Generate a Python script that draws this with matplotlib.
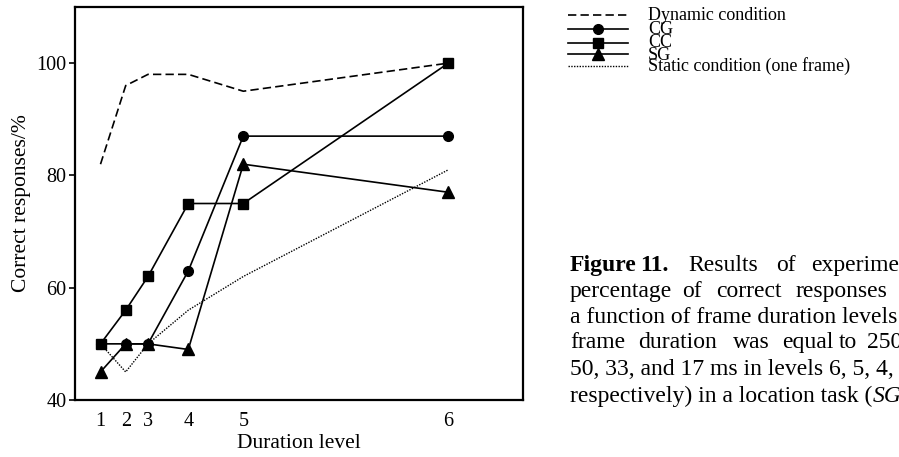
import matplotlib
matplotlib.use('Agg')
import matplotlib.pyplot as plt
from matplotlib.lines import Line2D

# ---- data ----
levels = [1, 2, 3, 4, 5, 6]
level_positions = [25.5, 50.7, 73.0, 113.3, 168.3, 373.3]  # axis placement of each level
dynamic = [82, 96, 98, 98, 95, 100]
cg = [50, 50, 50, 63, 87, 87]
cc = [50, 56, 62, 75, 75, 100]
sg = [45, 50, 50, 49, 82, 77]
static = [50, 45, 50, 56, 62, 81]
yticks = [40, 60, 80, 100]

FONT = 'Liberation Serif'
plt.rcParams['font.family'] = [FONT, 'DejaVu Serif']

W, H = 899, 457
fig = plt.figure(figsize=(W / 100, H / 100), dpi=100)
ax = fig.add_axes([75 / W, 57 / H, 448 / W, 393 / H])

lw = 1.2
ax.plot(level_positions, dynamic, color='black', lw=lw, dashes=(5, 2.5))
ax.plot(level_positions, static, color='black', lw=1.0, linestyle=(0, (1, 1)))
ax.plot(level_positions, cg, color='black', lw=lw, marker='o', markersize=7)
ax.plot(level_positions, sg, color='black', lw=lw, marker='^', markersize=9)
ax.plot(level_positions, cc, color='black', lw=lw, marker='s', markersize=7.5)

ax.set_xlim(0, 448)
ax.set_ylim(40, 110)
ax.set_xticks(level_positions)
ax.set_xticklabels([str(l) for l in levels])
ax.set_yticks(yticks)
ax.tick_params(axis='x', length=0, pad=9, labelsize=14.5)
ax.tick_params(axis='y', length=4, width=1.2, direction='out', pad=2, labelsize=14.5)
for s in ax.spines.values():
    s.set_linewidth(1.6)
ax.set_xlabel('Duration level', fontsize=15.5, labelpad=2)
ax.set_ylabel('Correct responses/%', fontsize=15.5, labelpad=4)

# ---- legend (manual, outside axes) ----
def fy(py):
    return 1 - py / H

# (label, line style, marker, handle y px, text baseline y px)
entries = [
    ('Dynamic condition', dict(dashes=(5, 2.5), lw=lw), None, 15, 19.5),
    ('CG', dict(lw=lw), 'o', 29.3, 33.8),
    ('CC', dict(lw=lw), 's', 42.7, 47.2),
    ('SG', dict(lw=lw), '^', 53.5, 59.5),
    ('Static condition (one frame)', dict(linestyle=(0, (1, 1)), lw=1.0), None, 65.7, 71.0),
]
for label, st, mk, py, pb in entries:
    ln = Line2D([568 / W, 628 / W], [fy(py), fy(py)], transform=fig.transFigure,
                color='black', **st)
    fig.add_artist(ln)
    if mk is not None:
        ms = {'o': 7, 's': 7, '^': 9}[mk]
        m = Line2D([598 / W], [fy(py)], transform=fig.transFigure, color='black',
                   marker=mk, markersize=ms, linestyle='none')
        fig.add_artist(m)
    fig.text(648 / W, fy(pb), label, fontsize=13, va='baseline', ha='left')

# ---- caption (partially cut at right edge) ----
cap_fs = 17
lines = [
    (270.7, [(570, 'Figure', 'bold'), (640, '11.', 'bold'), (688.3, 'Results', None),
             (776, 'of', None), (810.7, 'experimental', None)]),
    (296.7, [(570, 'percentage', None), (681.7, 'of', None), (715.7, 'correct', None),
             (795, 'responses', None), (901, 'as', None)]),
    (323.3, [(570, 'a function of frame duration levels', None)]),
    (348.3, [(570, 'frame', None), (638.3, 'duration', None), (733.3, 'was', None),
             (781.7, 'equal', None), (838.3, 'to', None), (866.7, '250,', None)]),
    (375.0, [(570, '50, 33, and 17 ms in levels 6, 5, 4, 3,', None)]),
]
for py, words in lines:
    for px, w, weight in words:
        fig.text(px / W, fy(py), w, fontsize=cap_fs, va='baseline', ha='left',
                 fontweight=weight if weight else 'normal')

t6 = fig.text(570 / W, fy(401.7), 'respectively) in a location task (', fontsize=cap_fs,
              va='baseline', ha='left')
fig.canvas.draw()
bb = t6.get_window_extent()
fig.text(bb.x1 / W, fy(401.7), 'SG', fontsize=cap_fs, va='baseline', ha='left',
         fontstyle='italic')

fig.savefig('out.png', dpi=100)
